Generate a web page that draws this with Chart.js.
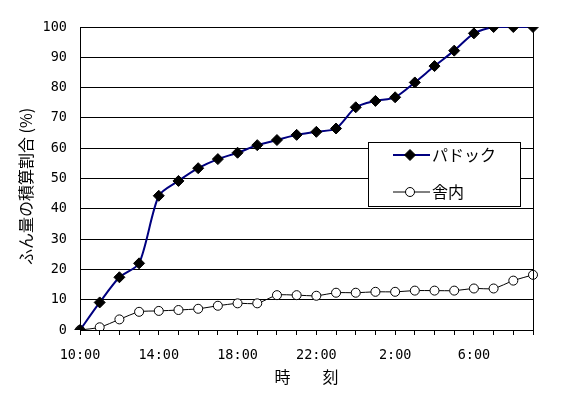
<!DOCTYPE html>
<html><head><meta charset="utf-8">
<script src="https://cdn.jsdelivr.net/npm/chart.js@4/dist/chart.umd.min.js"></script>
<style>html,body{margin:0;padding:0;background:#fff}#wrap{width:564px;height:393px}</style>
</head><body><div id="wrap"><canvas id="c" width="564" height="393"></canvas></div>
<script>
const timeLabels = ['10:00','11:00','12:00','13:00','14:00','15:00','16:00','17:00','18:00','19:00','20:00','21:00','22:00','23:00','0:00','1:00','2:00','3:00','4:00','5:00','6:00','7:00','8:00','9:00'];
const paddock = [0, 9.1, 17.4, 22.0, 44.3, 49.2, 53.4, 56.4, 58.5, 61.0, 62.7, 64.4, 65.4, 66.5, 73.5, 75.6, 76.8, 81.7, 87.1, 92.2, 97.9, 100, 100, 100];
const indoor = [0, 0.9, 3.5, 6.0, 6.3, 6.6, 7.0, 8.0, 8.8, 8.8, 11.5, 11.5, 11.3, 12.3, 12.3, 12.6, 12.6, 13.0, 13.0, 13.0, 13.7, 13.7, 16.3, 18.2];
const seriesNames = ['パドック', '舎内'];
const yMin = 0, yMax = 100, yStep = 10;
const xTitle = '時　　刻';
const yTitle = 'ふん量の積算割合 (%)';
const FONT = "'Noto Sans CJK JP', 'DejaVu Sans', sans-serif";
const MONO = "'DejaVu Sans Mono', 'Liberation Mono', monospace";

const frameLines = {
  id: 'frameLines',
  afterDatasetsDraw(chart) {
    const {ctx, chartArea: a} = chart;
    ctx.save();
    ctx.strokeStyle = '#000'; ctx.lineWidth = 1;
    ctx.beginPath();
    ctx.moveTo(Math.round(a.right) + 0.5, a.top);
    ctx.lineTo(Math.round(a.right) + 0.5, a.bottom);
    ctx.stroke();
    ctx.restore();
  }
};

const boxLegend = {
  id: 'boxLegend',
  afterDraw(chart) {
    const {ctx} = chart;
    const x0 = 368, y0 = 142, w = 152, h = 64;
    ctx.save();
    ctx.fillStyle = '#fff';
    ctx.fillRect(x0, y0, w, h);
    ctx.strokeStyle = '#000'; ctx.lineWidth = 1;
    ctx.strokeRect(x0 + 0.5, y0 + 0.5, w, h);
    const rows = [y0 + 13, y0 + 50];
    chart.data.datasets.forEach((ds, i) => {
      const y = rows[i];
      ctx.strokeStyle = ds.borderColor; ctx.lineWidth = ds.borderWidth;
      ctx.beginPath(); ctx.moveTo(393, y); ctx.lineTo(430, y); ctx.stroke();
      const r = ds.pointRadius;
      ctx.fillStyle = ds.pointBackgroundColor; ctx.strokeStyle = ds.pointBorderColor; ctx.lineWidth = 1;
      ctx.beginPath();
      if (ds.pointStyle === 'rectRot') {
        ctx.moveTo(410, y - r); ctx.lineTo(410 + r, y); ctx.lineTo(410, y + r); ctx.lineTo(410 - r, y); ctx.closePath();
      } else {
        ctx.arc(410, y, r, 0, Math.PI * 2);
      }
      ctx.fill(); ctx.stroke();
      ctx.fillStyle = '#000';
      ctx.font = '16px ' + FONT;
      ctx.textBaseline = 'middle'; ctx.textAlign = 'left';
      ctx.fillText(ds.label, 432, y);
    });
    ctx.restore();
  }
};

new Chart(document.getElementById('c'), {
  type: 'line',
  data: {
    labels: timeLabels,
    datasets: [
      { label: seriesNames[0], data: paddock, borderColor: '#000080', borderWidth: 2, tension: 0.25,
        pointStyle: 'rectRot', pointRadius: 5.5, pointBackgroundColor: '#000', pointBorderColor: '#000', pointBorderWidth: 1 },
      { label: seriesNames[1], data: indoor, borderColor: '#000', borderWidth: 1, tension: 0.25,
        pointStyle: 'circle', pointRadius: 4.5, pointBackgroundColor: '#fff', pointBorderColor: '#000', pointBorderWidth: 1 }
    ]
  },
  options: {
    responsive: false, animation: false, devicePixelRatio: 1,
    layout: { padding: { top: 27, right: 31, left: 0, bottom: 0 } },
    plugins: { legend: { display: false }, tooltip: { enabled: false } },
    scales: {
      x: {
        type: 'category', offset: false,
        grid: { display: true, drawOnChartArea: false, drawTicks: true, tickLength: 5, color: '#000' },
        border: { display: true, color: '#000', width: 1 },
        ticks: { autoSkip: false, maxRotation: 0, color: '#000', font: { family: MONO, size: 13.5 }, padding: 12,
          callback: (v, i) => (i % 4 === 0 ? timeLabels[i] : '') },
        title: { display: true, text: xTitle, color: '#000', font: { family: FONT, size: 16 }, padding: { top: 4, bottom: 6 } },
        afterFit: s => { s.height = 63; }
      },
      y: {
        min: yMin, max: yMax,
        grid: { color: '#000', drawTicks: false },
        border: { display: true, color: '#000', width: 1 },
        ticks: { stepSize: yStep, color: '#000', font: { family: MONO, size: 13.5 }, padding: 13 },
        title: { display: true, text: yTitle + '　', color: '#000', font: { family: FONT, size: 16 }, padding: { top: 16, bottom: 0 } },
        afterFit: s => { s.width = 80; }
      }
    }
  },
  plugins: [frameLines, boxLegend]
});
</script></body></html>
